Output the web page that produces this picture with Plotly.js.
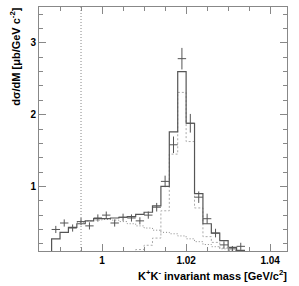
<!DOCTYPE html>
<html>
<head>
<meta charset="utf-8">
<script src="https://cdn.plot.ly/plotly-3.0.1.min.js"></script>
<style>html,body{margin:0;padding:0;background:#fff;}#plot{width:299px;height:286px;}</style>
</head>
<body>
<div id="plot"></div>
<script>
// ---- data (GeV/c^2, µb/GeV c^-2) ----
const binWidth = 0.002;
const massCenters = [0.989,0.991,0.993,0.995,0.997,0.999,1.001,1.003,1.005,1.007,1.009,1.011,1.013,1.015,1.017,1.019,1.021,1.023,1.025,1.027,1.029,1.031,1.033];
const dataValues  = [0.40,0.49,0.42,0.51,0.45,0.56,0.60,0.49,0.57,0.56,0.52,0.60,0.71,1.07,1.58,2.78,1.88,0.85,0.55,0.35,0.185,0.13,0.165];
const dataErrors  = [0.05,0.05,0.05,0.05,0.05,0.05,0.05,0.05,0.05,0.05,0.05,0.05,0.06,0.08,0.115,0.15,0.13,0.08,0.07,0.06,0.05,0.04,0.05];
const totalValues = [0.27,0.36,0.43,0.48,0.52,0.55,0.55,0.56,0.57,0.58,0.61,0.64,0.73,1.00,1.76,2.60,1.88,0.90,0.48,0.35,0.245,0.15,0.11];
const signalValues= [0,0,0,0,0,0,0,0,0.05,0.08,0.12,0.18,0.28,0.66,1.45,2.31,1.625,0.70,0.30,0.22,0.14,0.10,0.05];
const bgCenters   = [0.995,0.997,0.999,1.001,1.003,1.005,1.007,1.009,1.011,1.013,1.015,1.017,1.019,1.021,1.023,1.025,1.027,1.029,1.031,1.033];
const bgValues    = [0.50,0.52,0.53,0.54,0.53,0.51,0.48,0.45,0.42,0.39,0.36,0.34,0.31,0.27,0.23,0.19,0.16,0.13,0.11,0.10];
const cutMass = 0.995;
const xTickVals = [1.00,1.02,1.04];
const xTickText = ['1','1.02','1.04'];
const yTickVals = [1,2,3];
const yTickText = ['1','2','3'];

// build step outlines from the bin contents
function stepXY(centers, values, w){
  const x=[centers[0]-w/2], y=[0];
  centers.forEach((c,i)=>{x.push(c-w/2); y.push(values[i]);});
  x.push(centers[centers.length-1]+w/2); y.push(values[values.length-1]);
  return {x,y};
}
const tot = stepXY(massCenters,totalValues,binWidth);
const sig = stepXY(massCenters,signalValues,binWidth);
const bg  = stepXY(bgCenters,bgValues,binWidth);

const font = {family:'Liberation Sans, Arial, sans-serif', size:10, color:'#000', weight:'bold'};

const traces = [
  {x:sig.x, y:sig.y, type:'scatter', mode:'lines', line:{shape:'hv', color:'#aaaaaa', width:1, dash:'2px,2px'}, hoverinfo:'skip'},
  {x:bg.x.slice(1), y:bg.y.slice(1), type:'scatter', mode:'lines', line:{shape:'hv', color:'#888888', width:1, dash:'1px,2px'}, hoverinfo:'skip'},
  {x:tot.x, y:tot.y, type:'scatter', mode:'lines', line:{shape:'hv', color:'#555555', width:1.2}, hoverinfo:'skip'},
  {x:massCenters, y:dataValues, type:'scatter', mode:'markers',
   marker:{size:1, color:'rgba(0,0,0,0)'},
   error_y:{type:'data', array:dataErrors, visible:true, color:'#555555', thickness:1, width:0},
   error_x:{type:'constant', value:binWidth/2, visible:true, color:'#555555', thickness:1, width:0}}
];

const layout = {
  width:299, height:286,
  margin:{l:39, r:12, t:7, b:35},
  paper_bgcolor:'#fff', plot_bgcolor:'#fff',
  showlegend:false,
  font:font,
  xaxis:{range:[0.985,1.044], showgrid:false, zeroline:false, showline:true, linecolor:'#888', linewidth:1, mirror:'ticks',
         ticks:'inside', ticklen:7, tickcolor:'#888', tickvals:xTickVals, ticktext:xTickText, tickfont:font,
         minor:{ticks:'inside', ticklen:4, tickcolor:'#888', dtick:0.005, tick0:0, showgrid:false}},
  yaxis:{range:[0.1,3.5], showgrid:false, zeroline:false, showline:true, linecolor:'#888', linewidth:1, mirror:'ticks',
         ticks:'inside', ticklen:7, tickcolor:'#888', tickvals:yTickVals, ticktext:yTickText, tickfont:font,
         minor:{ticks:'inside', ticklen:4, tickcolor:'#888', dtick:0.2, tick0:0, showgrid:false}},
  shapes:[{type:'line', xref:'x', yref:'paper', x0:cutMass, x1:cutMass, y0:0, y1:1, line:{color:'#888', width:1, dash:'1px,2px'}}],
  annotations:[
    {text:'K<sup>+</sup>K<sup>-</sup> invariant mass [GeV/c<sup>2</sup>]', xref:'paper', yref:'paper', x:1.01, y:-0.1,
     xanchor:'right', yanchor:'middle', showarrow:false, font:{family:font.family, size:11, color:'#000', weight:'bold'}},
    {text:'dσ/dM [μb/GeV c<sup>-2</sup>]', xref:'paper', yref:'paper', x:-0.097, y:1.005, textangle:-90,
     xanchor:'center', yanchor:'top', showarrow:false, font:{family:font.family, size:11, color:'#000', weight:'bold'}}
  ]
};
Plotly.newPlot('plot', traces, layout, {staticPlot:true, displayModeBar:false});
</script>
</body>
</html>
